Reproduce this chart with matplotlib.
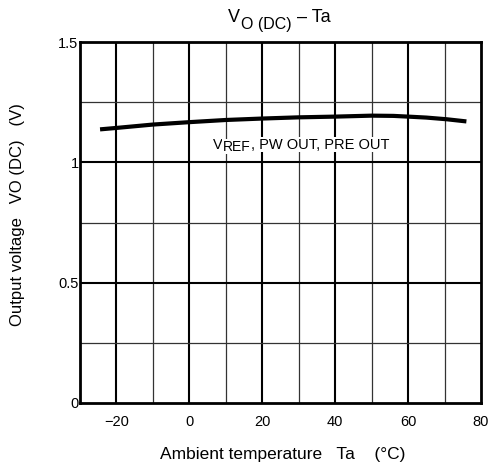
# Output voltage vs ambient temperature
import numpy as np
import matplotlib.pyplot as plt

plt.rcParams['font.family'] = ['Liberation Sans', 'DejaVu Sans']

# curve
ta = [-24.5, -20, -10, 0, 10, 20, 30, 40, 50, 56, 60, 65, 70.6, 76]
vo = [1.137, 1.143, 1.157, 1.167, 1.176, 1.182, 1.187, 1.190, 1.194, 1.193, 1.190, 1.186, 1.179, 1.170]

x_ticks = [-20, 0, 20, 40, 60, 80]
y_ticks = [0, 0.5, 1, 1.5]
y_tick_labels = ['0', '0.5', '1', '1.5']

fig = plt.figure(figsize=(4.92, 4.71), dpi=100)
ax = fig.add_axes([0.1626, 0.1444, 0.815, 0.7664])

ax.set_xlim(-30, 80)
ax.set_ylim(0, 1.5)

# grid: thick at major, thin in between
for xv in np.arange(-20, 80, 20):
    ax.axvline(xv, color='black', lw=1.5, zorder=1)
for xv in np.arange(-10, 80, 20):
    ax.axvline(xv, color='#333333', lw=0.9, zorder=1)
for yv in [0.5, 1.0]:
    ax.axhline(yv, color='black', lw=1.5, zorder=1)
for yv in [0.25, 0.75, 1.25]:
    ax.axhline(yv, color='#333333', lw=0.9, zorder=1)

ax.plot(ta, vo, color='black', lw=3, solid_capstyle='butt', zorder=3)


def chain(first, parts):
    # put text pieces one after another, each with its own size and vertical shift
    prev = first
    for s, size, dy in parts:
        prev = ax.annotate(s, xy=(1, 0), xycoords=prev, xytext=(0, dy), textcoords='offset points',
                           ha='left', va='bottom', fontsize=size, annotation_clip=False,
                           bbox=dict(facecolor='white', edgecolor='none', pad=0.3), zorder=2)
    return prev


wb = dict(facecolor='white', edgecolor='none', pad=0.3)
t0 = ax.text(6.5, 1.045, 'V', ha='left', va='bottom', fontsize=10.5, bbox=wb, zorder=2)
t1 = chain(t0, [('REF', 10, -1.5)])
chain(t1, [(', PW OUT, PRE OUT', 10.5, 1.5)])

# title with large subscript
h0 = fig.text(228 / 492, 1 - 26.5 / 471, 'V', ha='left', va='bottom', fontsize=13)
h1 = ax.annotate('O (DC)', xy=(1, 0), xycoords=h0, xytext=(0.5, -3.6), textcoords='offset points',
                 ha='left', va='bottom', fontsize=11.5, annotation_clip=False)
ax.annotate('\u2013 Ta', xy=(1, 0), xycoords=h1, xytext=(4, 3.6), textcoords='offset points',
            ha='left', va='bottom', fontsize=13, annotation_clip=False)

ax.set_xticks(x_ticks)
ax.set_xticklabels(['\u221220' if v == -20 else str(v) for v in x_ticks])
ax.set_yticks(y_ticks)
ax.set_yticklabels(y_tick_labels)
ax.tick_params(length=0, labelsize=10.5)
ax.tick_params(axis='x', pad=9)
ax.tick_params(axis='y', pad=1)

for s in ax.spines.values():
    s.set_linewidth(2)

fig.text(282.5 / 492, 1 - 455 / 471, 'Ambient temperature   Ta    (\u00b0C)',
         ha='center', va='center', fontsize=12.5)
fig.text(18 / 492, 1 - 214.5 / 471, 'Output voltage   VO (DC)   (V)',
         ha='center', va='center', rotation=90, fontsize=12)

fig.savefig('out.png', dpi=100)
